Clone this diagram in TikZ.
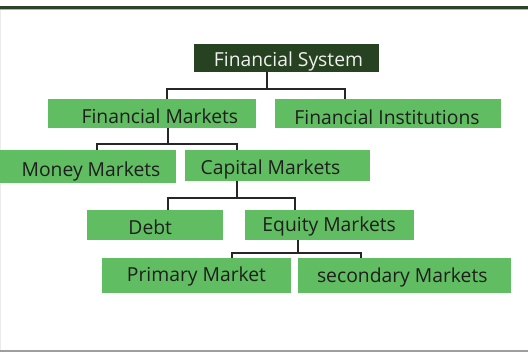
\documentclass[tikz,border=0pt]{standalone}
\usepackage{fontspec}
\setmainfont{Open Sans}
\definecolor{boxgreen}{HTML}{61BD61}
\definecolor{darkgreen}{HTML}{274220}
\definecolor{txtdark}{HTML}{1E1E1E}
\definecolor{linedark}{HTML}{262626}
\definecolor{topline}{HTML}{2D4328}
\begin{document}
\begin{tikzpicture}[x=1pt,y=-1pt,
  box/.style={rectangle, fill=boxgreen, inner sep=0pt, draw=none},
  rootbox/.style={rectangle, fill=darkgreen, inner sep=0pt, draw=none},
  lbl/.style={anchor=base, inner sep=0pt, font=\fontsize{19.3}{22}\selectfont, text=txtdark},
  rootlbl/.style={lbl, text=white!94!black},
  conn/.style={draw=linedark, line width=1.9pt}]
\useasboundingbox (0,0) rectangle (528,352);
% frame lines
\fill[topline] (0,6) rectangle (528,9);
\fill[black!30] (0,9) rectangle (528,10);
\fill[black!8] (0,10) rectangle (1,350);
\fill[black!38] (0,350.5) rectangle (528,352);
% nodes
\node[rootbox, minimum width=185pt, minimum height=27.7pt,
  label={[rootlbl, xshift=2pt, yshift=5pt]south:Financial System}] (fs) at (286.5,57.9) {};
\node[box, minimum width=208.3pt, minimum height=28.7pt,
  label={[lbl, xshift=8pt, yshift=4.4pt]south:Financial Markets}] (fm) at (151.9,113.4) {};
\node[box, minimum width=225.4pt, minimum height=28.7pt,
  label={[lbl, xshift=-1pt, yshift=3.7pt]south:Financial Institutions}] (fi) at (388,113.4) {};
\node[box, minimum width=176pt, minimum height=33.3pt,
  label={[lbl, xshift=3pt, yshift=6.6pt]south:Money Markets}] (mm) at (88,166.7) {};
\node[box, minimum width=185pt, minimum height=30.7pt,
  label={[lbl, xshift=-7pt, yshift=6.7pt]south:Capital Markets}] (cm) at (277.5,165.4) {};
\node[box, minimum width=136.3pt, minimum height=30pt,
  label={[lbl, xshift=-5pt, yshift=6pt]south:Debt}] (db) at (155.2,225) {};
\node[box, minimum width=169pt, minimum height=30pt,
  label={[lbl, yshift=8.3pt]south:Equity Markets}] (em) at (329.2,225) {};
\node[box, minimum width=189pt, minimum height=34.7pt,
  label={[lbl, yshift=11pt]south:Primary Market}] (pm) at (196.5,275.3) {};
\node[box, minimum width=212.7pt, minimum height=34.7pt,
  label={[lbl, xshift=-2pt, yshift=10.4pt]south:secondary Markets}] (sm) at (404.3,275.3) {};
% connectors
\draw[conn] ([xshift=-19.8pt]fs.south) -- ++(0,17.8);
\draw[conn] ([xshift=14.8pt]fm.north) -- ++(0,-9.5) -| ([xshift=-43pt]fi.north);
\draw[conn] ([xshift=16.4pt]fm.south) -- ++(0,16.3);
\draw[conn] ([xshift=8.7pt]mm.north) -- ++(0,-6) -| ([xshift=-40.2pt]cm.north);
\draw[conn] ([xshift=-40.8pt]cm.south) -- ++(0,17.6);
\draw[conn] ([xshift=13.1pt]db.north) -- ++(0,-11.7) -| ([xshift=-33.9pt]em.north);
\draw[conn] ([xshift=-31.5pt]em.south) -- ++(0,13.3);
\draw[conn] ([xshift=35.2pt]pm.north) -- ++(0,-4.7) -| ([xshift=-43.6pt]sm.north);
\end{tikzpicture}
\end{document}
